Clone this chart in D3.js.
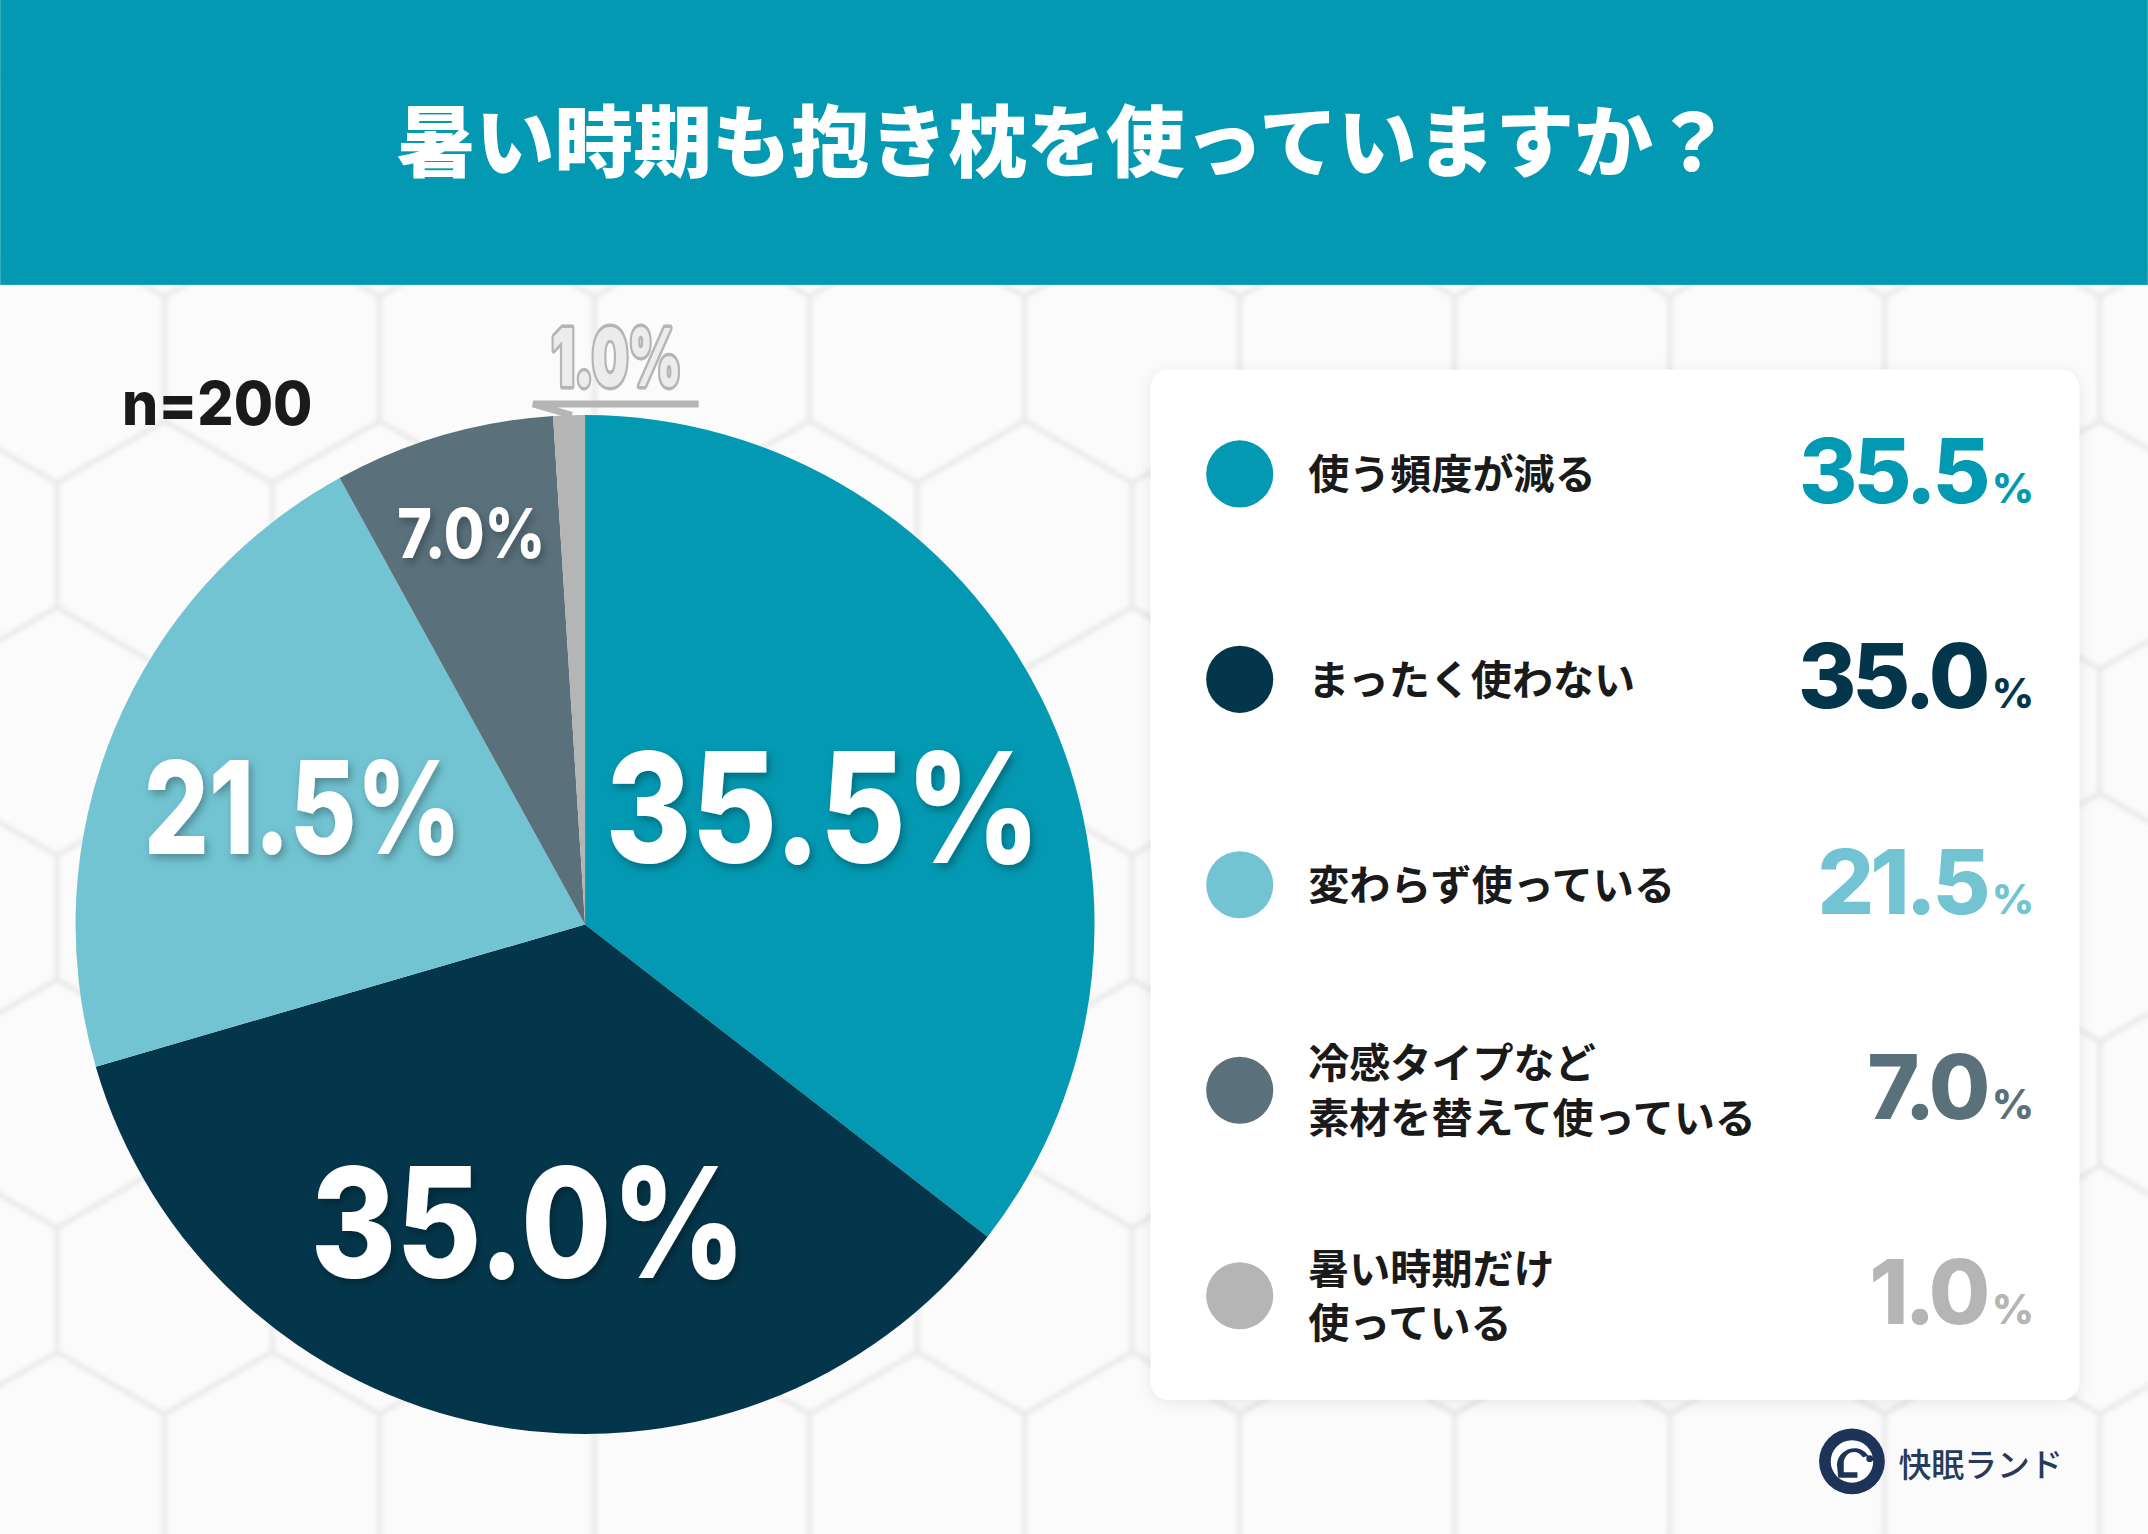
<!DOCTYPE html>
<html>
<head>
<meta charset="utf-8">
<script src="https://cdn.jsdelivr.net/npm/d3@7"></script>
<style>
  body { margin: 0; background: #f5f5f5; }
  svg { display: block; }
</style>
</head>
<body>
<div id="chart"></div>
<script>
// data
var titleText = "暑い時期も抱き枕を使っていますか？";
var sampleText = "n=200";
var categories = [
  ["使う頻度が減る"],
  ["まったく使わない"],
  ["変わらず使っている"],
  ["冷感タイプなど", "素材を替えて使っている"],
  ["暑い時期だけ", "使っている"]
];
var values = [35.5, 35.0, 21.5, 7.0, 1.0];
var brandText = "快眠ランド";

// styles
var colors = ["#0399b2", "#04364b", "#72c4d2", "#5a717c", "#b5b5b5"];
var labelRadius = [0.52, 0.595, 0.6, 0.8];
var labelSize = [112, 112, 94, 50];
var labelWidth = [318, 318, 232, 108];

var W = 1568, H = 1120;
var jp = "'Noto Sans CJK JP', 'Noto Sans', sans-serif";
var num = "Inter, Roboto, 'DejaVu Sans', sans-serif";
var fmt = d3.format(".1f");

var svg = d3.select("#chart")
  .append("svg")
  .attr("width", 2148)
  .attr("height", 1534)
  .attr("viewBox", `0 0 ${W} ${H}`);

var defs = svg.append("defs");
var shadow = defs.append("filter").attr("id", "txtShadow")
  .attr("x", "-20%").attr("y", "-20%").attr("width", "140%").attr("height", "140%");
shadow.append("feDropShadow")
  .attr("dx", 2).attr("dy", 3).attr("stdDeviation", 3)
  .attr("flood-color", "#000").attr("flood-opacity", 0.3);

var cardShadow = defs.append("filter").attr("id", "cardShadow")
  .attr("x", "-10%").attr("y", "-10%").attr("width", "120%").attr("height", "120%");
cardShadow.append("feDropShadow")
  .attr("dx", 0).attr("dy", 2).attr("stdDeviation", 6)
  .attr("flood-color", "#000").attr("flood-opacity", 0.08);

var hexBlur = defs.append("filter").attr("id", "hexBlur");
hexBlur.append("feGaussianBlur").attr("stdDeviation", 1.8);

// background with hexagon tiles
svg.append("rect").attr("width", W).attr("height", H).attr("fill", "#f6f6f6");

var hexW = 157, hexR = hexW / Math.sqrt(3);
var hexPts = d3.range(6).map(i => {
  var a = Math.PI / 3 * i + Math.PI / 6;
  return [hexR * Math.cos(a), hexR * Math.sin(a)];
});
var hexGroup = svg.append("g").attr("filter", "url(#hexBlur)");
for (var row = -1; row < 9; row++) {
  var cy = 262 + row * 1.5 * hexR;
  var off = (row % 2 === 0) ? 41.5 : 41.5 + hexW / 2;
  for (var col = -1; col < 12; col++) {
    var cx = off + col * hexW;
    hexGroup.append("polygon")
      .attr("points", hexPts.map(p => [cx + p[0], cy + p[1]].join(",")).join(" "))
      .attr("fill", "#fbfbfb")
      .attr("stroke", "#e6e6e6")
      .attr("stroke-width", 3);
  }
}

// header
svg.append("rect").attr("width", W).attr("height", 208).attr("fill", "#0399b2");
svg.append("text")
  .attr("x", 777).attr("y", 100)
  .attr("text-anchor", "middle")
  .attr("dominant-baseline", "central")
  .attr("font-family", jp)
  .attr("font-weight", 900)
  .attr("font-size", 57.5)
  .attr("fill", "#fff")
  .text(titleText);

// pie
var cx0 = 427, cy0 = 675, R = 372;
var pie = d3.pie().sort(null).value(d => d);
var arcs = pie(values);
var arc = d3.arc().innerRadius(0).outerRadius(R);

var pieG = svg.append("g").attr("transform", `translate(${cx0},${cy0})`);
pieG.selectAll("path")
  .data(arcs)
  .enter()
  .append("path")
  .attr("d", arc)
  .attr("fill", (d, i) => colors[i]);

// labels inside the slices
pieG.selectAll("text.inner")
  .data(arcs.slice(0, 4))
  .enter()
  .append("text")
  .attr("class", "inner")
  .attr("transform", (d, i) => {
    var c = d3.arc().innerRadius(R * labelRadius[i]).outerRadius(R * labelRadius[i]).centroid(d);
    return `translate(${c[0]},${c[1]})`;
  })
  .attr("text-anchor", "middle")
  .attr("dy", "0.36em")
  .attr("font-family", num)
  .attr("font-weight", 800)
  .attr("font-size", (d, i) => labelSize[i])
  .attr("textLength", (d, i) => labelWidth[i])
  .attr("lengthAdjust", "spacingAndGlyphs")
  .attr("fill", "#fff")
  .attr("filter", "url(#txtShadow)")
  .text(d => fmt(d.data) + "%");

// outside label for the smallest slice
var small = arcs[4];
var mid = (small.startAngle + small.endAngle) / 2;
var edge = [R * Math.sin(mid), -R * Math.cos(mid)];
pieG.append("polyline")
  .attr("points", [[edge[0] + 2, edge[1]], [-38, -380], [83, -380]].map(p => p.join(",")).join(" "))
  .attr("fill", "none")
  .attr("stroke", colors[4])
  .attr("stroke-width", 5)
  .attr("stroke-linejoin", "bevel");
pieG.append("text")
  .attr("x", 23).attr("y", -393)
  .attr("text-anchor", "middle")
  .attr("font-family", num)
  .attr("font-weight", 900)
  .attr("font-size", 58)
  .attr("textLength", 95)
  .attr("lengthAdjust", "spacingAndGlyphs")
  .attr("fill", "#ececec")
  .attr("stroke", colors[4])
  .attr("stroke-width", 5)
  .attr("stroke-linejoin", "round")
  .attr("paint-order", "stroke")
  .text(fmt(values[4]) + "%");

// sample size
svg.append("text")
  .attr("x", 89).attr("y", 310)
  .attr("font-family", num)
  .attr("font-weight", 800)
  .attr("font-size", 44)
  .attr("textLength", 139)
  .attr("lengthAdjust", "spacingAndGlyphs")
  .attr("fill", "#1a1a1a")
  .text(sampleText);

// legend card
svg.append("rect")
  .attr("x", 840).attr("y", 270)
  .attr("width", 678).attr("height", 752)
  .attr("rx", 13)
  .attr("fill", "#fff")
  .attr("filter", "url(#cardShadow)");

var legendY = d3.scalePoint()
  .domain(d3.range(values.length))
  .range([346, 946]);

var item = svg.selectAll("g.legend")
  .data(values)
  .enter()
  .append("g")
  .attr("class", "legend")
  .attr("transform", (d, i) => `translate(0,${legendY(i)})`);

item.append("circle")
  .attr("cx", 905).attr("cy", 0).attr("r", 24.5)
  .attr("fill", (d, i) => colors[i]);

item.each(function(d, i) {
  var lines = categories[i];
  var t = d3.select(this).append("text")
    .attr("font-family", jp)
    .attr("font-weight", 700)
    .attr("font-size", 30)
    .attr("fill", "#1a1a1a");
  lines.forEach((ln, k) => {
    t.append("tspan")
      .attr("x", 955)
      .attr("y", (k - (lines.length - 1) / 2) * 40 - 2)
      .attr("dominant-baseline", "central")
      .text(ln);
  });
});

var val = item.append("text")
  .attr("x", 1485).attr("y", 21)
  .attr("text-anchor", "end")
  .attr("font-family", num)
  .attr("font-weight", 800)
  .attr("fill", (d, i) => colors[i]);
val.append("tspan")
  .attr("font-size", 65)
  .attr("letter-spacing", -3)
  .text(d => fmt(d));
val.append("tspan")
  .attr("font-size", 30)
  .attr("dx", 4)
  .text("%");

// brand logo
var logo = svg.append("g").attr("transform", "translate(1352,1067)");
logo.append("circle").attr("r", 24).attr("fill", "#1e3358");
logo.append("circle").attr("r", 15.5).attr("fill", "#fff");
logo.append("path")
  .attr("d", "M-11,2 C-10,-10 6,-14 12,-4 L8,-3 C4,-9 -4,-8 -6,0 L-6,8 L4,8 L4,12 L-10,12 Z")
  .attr("fill", "#1e3358");
logo.append("circle").attr("cx", 13).attr("cy", -2).attr("r", 2.5).attr("fill", "#1e3358");
svg.append("text")
  .attr("x", 1386).attr("y", 1068)
  .attr("dominant-baseline", "central")
  .attr("font-family", jp)
  .attr("font-weight", 500)
  .attr("font-size", 24)
  .attr("fill", "#263a5c")
  .text(brandText);
</script>
</body>
</html>
